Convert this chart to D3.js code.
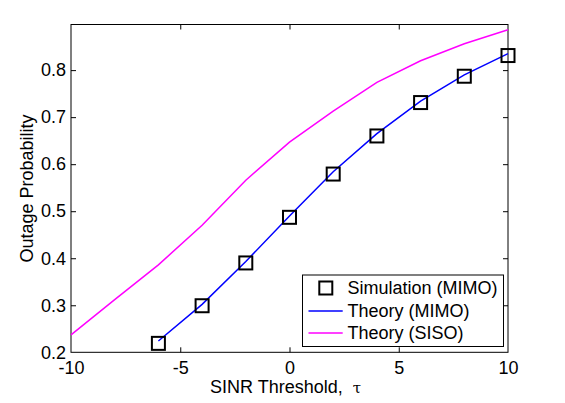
<!DOCTYPE html>
<html>
<head>
<meta charset="utf-8">
<script src="https://cdn.jsdelivr.net/npm/d3@7"></script>
<style>
  html, body { margin: 0; padding: 0; background: #fff; }
  svg { display: block; font-family: "Liberation Sans", Arial, sans-serif; }
  text { white-space: pre; }
</style>
</head>
<body>
<svg id="chart" width="565" height="403"></svg>
<script>
// ---- data ----
const simX = [-6, -4, -2, 0, 2, 4, 6, 8, 10];
const simMIMO = [0.219, 0.299, 0.390, 0.487, 0.579, 0.660, 0.731, 0.787, 0.831];
const theoryMimoX = [-6, -4, -2, 0, 2, 4, 6, 8, 10];
const theoryMIMO = [0.224, 0.302, 0.393, 0.490, 0.584, 0.665, 0.734, 0.790, 0.835];
const theorySisoX = [-10, -8, -6, -4, -2, 0, 2, 4, 6, 8, 10];
const theorySISO = [0.237, 0.312, 0.386, 0.470, 0.566, 0.647, 0.713, 0.774, 0.820, 0.856, 0.886];
const xTicks = [-10, -5, 0, 5, 10];
const yTicks = [0.2, 0.3, 0.4, 0.5, 0.6, 0.7, 0.8];
const legendLabels = ["Simulation (MIMO)", "Theory (MIMO)", "Theory (SISO)"];
const xLabelMain = "SINR Threshold,  ";
const xLabelSym = "\u03C4";
const yLabel = "Outage Probability";

// ---- layout ----
const L = 71, R = 508, T = 24.5, B = 352.3;
const FS = 18;
const svg = d3.select("#chart");
const x = d3.scaleLinear().domain([-10, 10]).range([L, R]);
const y = d3.scaleLinear().domain([0.2, 0.897]).range([B, T]);
const blue = "#0000ff", magenta = "#ff00ff";
const tickLen = 5;

// frame
svg.append("rect").attr("x", L).attr("y", T).attr("width", R - L).attr("height", B - T)
  .attr("fill", "none").attr("stroke", "#000").attr("stroke-width", 1);

// axes via d3 axis generators (inward ticks)
const fmtY = d3.format(".1f");
const gx = svg.append("g").attr("transform", `translate(0,${B})`)
  .call(d3.axisBottom(x).tickValues(xTicks).tickSizeInner(-tickLen).tickSizeOuter(0).tickPadding(9)
    .tickFormat(d => String(d).replace("\u2212", "-")));
const gxTop = svg.append("g").attr("transform", `translate(0,${T})`)
  .call(d3.axisTop(x).tickValues(xTicks).tickSizeInner(-tickLen).tickSizeOuter(0).tickFormat(""));
const gy = svg.append("g").attr("transform", `translate(${L},0)`)
  .call(d3.axisLeft(y).tickValues(yTicks).tickSizeInner(-tickLen).tickSizeOuter(0).tickPadding(5).tickFormat(fmtY));
const gyR = svg.append("g").attr("transform", `translate(${R},0)`)
  .call(d3.axisRight(y).tickValues(yTicks).tickSizeInner(-tickLen).tickSizeOuter(0).tickFormat(""));
[gx, gxTop, gy, gyR].forEach(g => {
  g.select(".domain").remove();
  g.selectAll(".tick line").attr("stroke", "#000").attr("stroke-width", 1);
  g.selectAll("text").attr("fill", "#000").attr("font-size", FS)
    .attr("font-family", "'Liberation Sans', Arial, sans-serif");
});
gx.selectAll("text").attr("dy", "0.71em");
gx.selectAll(".tick").filter(d => d === -10 || d === 10).select("line").remove();
gxTop.selectAll(".tick").filter(d => d === -10 || d === 10).select("line").remove();
gy.selectAll(".tick").filter(d => d === 0.2).select("line").remove();
gyR.selectAll(".tick").filter(d => d === 0.2).select("line").remove();

// lines
const line = d3.line().x(d => x(d[0])).y(d => y(d[1]));
svg.append("path").datum(theorySisoX.map((v, i) => [v, theorySISO[i]]))
  .attr("d", line).attr("fill", "none").attr("stroke", magenta).attr("stroke-width", 1.5);
svg.append("path").datum(theoryMimoX.map((v, i) => [v, theoryMIMO[i]]))
  .attr("d", line).attr("fill", "none").attr("stroke", blue).attr("stroke-width", 1.5);

// markers
const ms = 13;
svg.append("g").selectAll("rect").data(simX.map((v, i) => [v, simMIMO[i]])).join("rect")
  .attr("x", d => x(d[0]) - ms / 2).attr("y", d => y(d[1]) - ms / 2)
  .attr("width", ms).attr("height", ms)
  .attr("fill", "none").attr("stroke", "#000").attr("stroke-width", 2);

// axis titles
const xt = svg.append("text").attr("x", 210).attr("y", 392.5).attr("text-anchor", "start")
  .attr("font-size", FS).attr("fill", "#000");
xt.append("tspan").text(xLabelMain);
xt.append("tspan").attr("font-family", "'DejaVu Serif', serif").attr("font-size", 15).text(xLabelSym);
svg.append("text").attr("transform", `translate(32.5,188.5) rotate(-90)`).attr("text-anchor", "middle")
  .attr("font-size", FS).attr("fill", "#000").text(yLabel);

// legend
const lg = svg.append("g");
lg.append("rect").attr("x", 302.5).attr("y", 275).attr("width", 201).attr("height", 71.5)
  .attr("fill", "#fff").attr("stroke", "#000").attr("stroke-width", 1);
const rows = [288, 311, 333];
lg.append("rect").attr("x", 325.8 - ms / 2).attr("y", rows[0] - ms / 2).attr("width", ms).attr("height", ms)
  .attr("fill", "none").attr("stroke", "#000").attr("stroke-width", 2);
lg.append("line").attr("x1", 308.5).attr("x2", 342.7).attr("y1", rows[1]).attr("y2", rows[1])
  .attr("stroke", blue).attr("stroke-width", 1.5);
lg.append("line").attr("x1", 308.5).attr("x2", 342.7).attr("y1", rows[2]).attr("y2", rows[2])
  .attr("stroke", magenta).attr("stroke-width", 1.5);
legendLabels.forEach((t, i) => {
  lg.append("text").attr("x", 347.5).attr("y", rows[i]).attr("dy", "0.36em")
    .attr("font-size", FS).attr("fill", "#000").text(t);
});
</script>
</body>
</html>
